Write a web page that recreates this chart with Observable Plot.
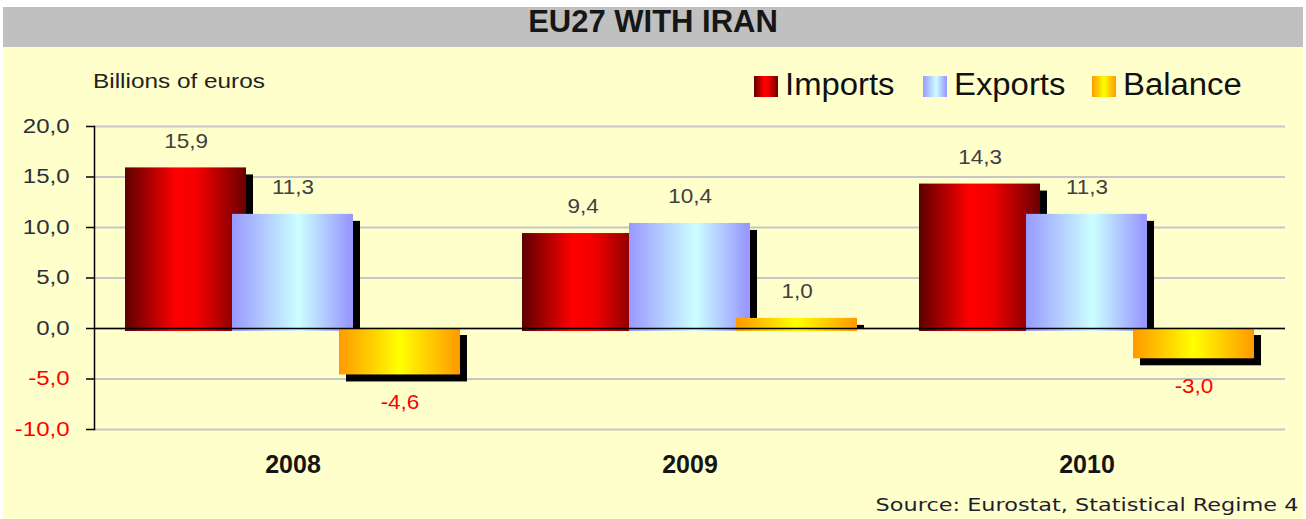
<!DOCTYPE html>
<html>
<head>
<meta charset="utf-8">
<script src="https://cdn.jsdelivr.net/npm/d3@7"></script>
<script src="https://cdn.jsdelivr.net/npm/@observablehq/plot@0.6"></script>
<style>
  body { margin: 0; background: #fff; font-family: "Liberation Sans", Arial, sans-serif; }
  #page { position: relative; width: 1300px; margin-left: 3px; padding-top: 7px; }
  #title { height: 40px; background: #c0c0c0; text-align: center; line-height: 40px;
           font: bold 31px "Liberation Sans", Arial, sans-serif; color: #161616; }
  #title span { position: relative; top: -3px; }
  #chart { position: relative; background: #ffffcc; height: 472px; }
  #chart svg { display: block; }
  #unit { position: absolute; left: 90px; top: 23px; font-size: 21px; line-height: 21px; color: #222;
          transform: scaleX(1.16); transform-origin: left center; white-space: nowrap; }
  .lg-sw { position: absolute; top: 29px; width: 24px; height: 21px; }
  .lg-tx { position: absolute; top: 22px; font-size: 31px; line-height: 31px; color: #111; white-space: nowrap;
           transform: scaleX(1.06); transform-origin: left center; }
  #caption { height: 29px; line-height: 29px; text-align: right; padding-right: 5px;
             font-family: "DejaVu Sans", sans-serif; font-size: 18.5px; color: #1e1e2e; }
  #caption span { display: inline-block; transform: scaleX(1.21); transform-origin: right center; }
</style>
</head>
<body>
<div id="page">
  <div id="title"><span>EU27 WITH IRAN</span></div>
  <div id="chart">
    <div id="unit">Billions of euros</div>
    <div id="caption"></div>
  </div>
</div>
<script>
// ---- data ----
const years = ["2008", "2009", "2010"];
const seriesNames = ["Imports", "Exports", "Balance"];
const imports = [15.9, 9.4, 14.3];
const exports = [11.3, 10.4, 11.3];
const balance = [-4.6, 1.0, -3.0];
const yTicks = [-10, -5, 0, 5, 10, 15, 20];
const titleText = "EU27 WITH IRAN";
const unitText = "Billions of euros";
const sourceText = "Source: Eurostat, Statistical Regime 4";

// gradient stops per series
const gradients = {
  Imports: [[0, "#5e0000"], [0.42, "#ff0000"], [0.6, "#f20000"], [1, "#6a0000"]],
  Exports: [[0, "#9999ff"], [0.55, "#ccffff"], [0.97, "#9999ff"], [1, "#9999ff"]],
  Balance: [[0, "#ff9900"], [0.5, "#ffff00"], [1, "#ff9900"]]
};

const seriesValues = {Imports: imports, Exports: exports, Balance: balance};
const data = years.flatMap((year, i) =>
  seriesNames.map(series => ({year, series, value: seriesValues[series][i]}))
);

const fmt = v => v.toFixed(1).replace(".", ",");

const base = {x: "series", y: "value", fx: "year", insetLeft: -7, insetRight: -7};
const barMarks = seriesNames.flatMap(s => {
  const rows = data.filter(d => d.series === s);
  return [
    Plot.barY(rows.filter(d => d.value >= 0), {...base, fill: "black", dx: 7, insetTop: 7}),
    Plot.barY(rows.filter(d => d.value < 0), {...base, fill: "black", dx: 7, dy: 7}),
    Plot.barY(rows.filter(d => d.value >= 0), {...base, fill: `url(#grad-${s})`, insetBottom: -3}),
    Plot.barY(rows.filter(d => d.value < 0), {...base, fill: `url(#grad-${s})`})
  ];
});

const svg = Plot.plot({
  width: 1300,
  height: 443,
  marginLeft: 90,
  marginRight: 18,
  marginTop: 79,
  marginBottom: 61,
  style: {background: "transparent", fontFamily: "Liberation Sans, Arial, sans-serif", overflow: "visible"},
  fx: {domain: years, padding: 0, label: null},
  x: {domain: seriesNames, paddingInner: 0, paddingOuter: 0.34, axis: null},
  y: {domain: [-10, 20], label: null},
  marks: [
    Plot.gridY(yTicks, {stroke: "#c6c6c6", strokeOpacity: 1, strokeWidth: 2}),
    Plot.frame({anchor: "left", facetAnchor: "left", stroke: "black", strokeWidth: 1.5}),
    ...barMarks,
    Plot.ruleY([0], {stroke: "black", strokeWidth: 1.5}),
    Plot.text(data.filter(d => d.value >= 0), {x: "series", y: "value", fx: "year", text: d => fmt(d.value),
      dy: -27, fill: "#404040", fontSize: 21}),
    Plot.text(data.filter(d => d.value < 0), {x: "series", y: "value", fx: "year", text: d => fmt(d.value),
      dy: 27, fill: "#ff0000", fontSize: 21}),
    Plot.axisY(yTicks.filter(v => v >= 0), {anchor: "left", tickSize: 8, tickPadding: 17, tickFormat: fmt,
      fontSize: 20, stroke: "black", strokeWidth: 1.5, fill: "#2a2f3a", label: null}),
    Plot.axisY(yTicks.filter(v => v < 0), {anchor: "left", tickSize: 8, tickPadding: 17, tickFormat: fmt,
      fontSize: 20, stroke: "black", strokeWidth: 1.5, fill: "#ff0000", label: null}),
    Plot.axisFx({anchor: "bottom", tickSize: 0, tickPadding: 26, fontSize: 25, fontWeight: "bold",
      fill: "#151515", label: null})
  ]
});

// gradient definitions
const defs = d3.select(svg).insert("defs", ":first-child");
for (const s of seriesNames) {
  const g = defs.append("linearGradient").attr("id", `grad-${s}`)
    .attr("x1", "0%").attr("x2", "100%").attr("y1", "0%").attr("y2", "0%");
  for (const [o, c] of gradients[s]) g.append("stop").attr("offset", o).attr("stop-color", c);
}

const chart = document.getElementById("chart");
chart.insertBefore(svg, document.getElementById("caption"));
document.querySelector("#title span").textContent = titleText;
document.getElementById("unit").textContent = unitText;
document.getElementById("caption").innerHTML = `<span>${sourceText}</span>`;

// legend
const legendPos = {Imports: [751, 782], Exports: [920, 951], Balance: [1089, 1120]};
for (const s of seriesNames) {
  const stops = gradients[s].map(([o, c]) => `${c} ${o * 100}%`).join(", ");
  const sw = document.createElement("div");
  sw.className = "lg-sw";
  sw.style.left = legendPos[s][0] + "px";
  sw.style.background = `linear-gradient(to right, ${stops})`;
  chart.appendChild(sw);
  const tx = document.createElement("div");
  tx.className = "lg-tx";
  tx.style.left = legendPos[s][1] + "px";
  tx.textContent = s;
  chart.appendChild(tx);
}

// widen the Excel-style labels a bit
function stretch(sel, k) {
  d3.select(svg).selectAll(sel).each(function () {
    const w = this.getComputedTextLength();
    if (w > 0) { this.setAttribute("textLength", w * k); this.setAttribute("lengthAdjust", "spacingAndGlyphs"); }
  });
}
stretch('g[aria-label="y-axis tick label"] text', 1.2);
stretch('g[aria-label="text"] text', 1.07);
</script>
</body>
</html>
